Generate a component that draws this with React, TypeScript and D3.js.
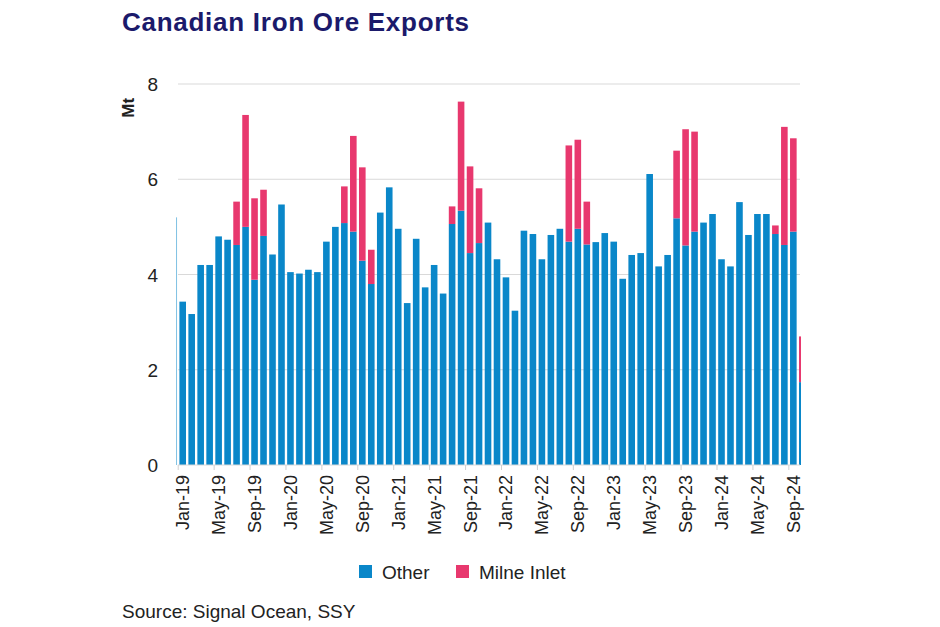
import React from "react";
import * as d3 from "d3";

const months = ["Dec","Jan","Feb","Mar","Apr","May","Jun","Jul","Aug","Sep","Oct","Nov"];
// Dec-18 .. Oct-24
const other = [5.2,
  3.43,3.17,4.2,4.2,4.8,4.73,4.62,5.0,3.89,4.81,4.42,5.47,
  4.05,4.02,4.1,4.05,4.69,5.0,5.08,4.9,4.29,3.8,5.3,5.83,
  4.96,3.4,4.75,3.73,4.2,3.6,5.06,5.34,4.45,4.66,5.09,4.32,
  3.94,3.24,4.92,4.85,4.32,4.83,4.96,4.69,4.96,4.63,4.68,4.87,
  4.69,3.91,4.41,4.45,6.11,4.17,4.41,5.18,4.61,4.9,5.09,5.27,
  4.32,4.17,5.52,4.83,5.27,5.27,4.85,4.62,4.9,1.74];
const totals = [5.2,
  3.43,3.17,4.2,4.2,4.8,4.73,5.53,7.35,5.6,5.78,4.42,5.47,
  4.05,4.02,4.1,4.05,4.69,5.0,5.85,6.91,6.25,4.52,5.3,5.83,
  4.96,3.4,4.75,3.73,4.2,3.6,5.43,7.63,6.27,5.81,5.09,4.32,
  3.94,3.24,4.92,4.85,4.32,4.83,4.96,6.71,6.83,5.53,4.68,4.87,
  4.69,3.91,4.41,4.45,6.11,4.17,4.41,6.6,7.05,7.0,5.09,5.27,
  4.32,4.17,5.52,4.83,5.27,5.27,5.03,7.1,6.86,2.7];
const milne = totals.map((t, i) => Math.max(0, +(t - other[i]).toFixed(2)));
const labels = other.map((_, i) => {
  const m = i % 12;
  const yr = i === 0 ? 18 : 19 + Math.floor((i - 1) / 12);
  return `${months[m]}-${yr}`;
});
const yTicks = [0, 2, 4, 6, 8];

const BLUE = "#0a87c9";
const PINK = "#e8386e";

export default function App() {
  const clipL = 176.5, clipR = 801;
  const step = 8.98;
  const x0 = 182.7 - step; // center of Dec-18
  const x = d3.scaleLinear().domain([0, other.length - 1]).range([x0, x0 + step * (other.length - 1)]);
  const y = d3.scaleLinear().domain([0, 8]).range([465, 84]);
  const bw = 6.6;
  const font = "'Liberation Sans', Arial, sans-serif";
  return (
    <svg width={940} height={627} style={{ position: "absolute", left: 0, top: 0, background: "#fff" }}>
      <defs>
        <clipPath id="pc"><rect x={clipL} y={60} width={clipR - clipL} height={420} /></clipPath>
      </defs>
      <text x={122} y={31} fontFamily={font} fontWeight="bold" fontSize={26} fill="#1b1a6b" textLength={347}>Canadian Iron Ore Exports</text>
      {yTicks.map(t => (
        <g key={t}>
          {t > 0 && <line x1={178} x2={800} y1={y(t)} y2={y(t)} stroke="#d9d9d9" strokeWidth={1.2} />}
          <text x={158} y={y(t) + 7} textAnchor="end" fontFamily={font} fontSize={19} fill="#222">{t}</text>
        </g>
      ))}
      <text transform={`translate(134,${y(7.5)}) rotate(-90)`} textAnchor="middle" fontFamily={font} fontSize={17} fontWeight="bold" fill="#222">Mt</text>
      <g clipPath="url(#pc)">
        {other.map((v, i) => (
          <g key={i}>
            <rect x={x(i) - bw / 2} width={bw} y={y(v)} height={y(0) - y(v)} fill={BLUE} />
            {milne[i] > 0 && <rect x={x(i) - bw / 2} width={bw} y={y(totals[i])} height={y(v) - y(totals[i])} fill={PINK} />}
          </g>
        ))}
      </g>
      <line x1={178} x2={800} y1={y(0)} y2={y(0)} stroke="#d9d9d9" />
      {labels.map((l, i) => (i % 4 === 1 ? (
        <g key={l}>
          <line x1={x(i) - step / 2} x2={x(i) - step / 2} y1={y(0)} y2={y(0) + 5} stroke="#d0d0d0" />
          <text transform={`translate(${x(i) + 6.5},${y(0) + 10}) rotate(-90)`} textAnchor="end" fontFamily={font} fontSize={18} fill="#222">{l}</text>
        </g>
      ) : null))}
      <rect x={359} y={565} width={13} height={13} fill={BLUE} />
      <text x={382} y={579} fontFamily={font} fontSize={19} fill="#222">Other</text>
      <rect x={456} y={565} width={13} height={13} fill={PINK} />
      <text x={479} y={579} fontFamily={font} fontSize={19} fill="#222">Milne Inlet</text>
      <text x={122} y={618} fontFamily={font} fontSize={19} fill="#222">Source: Signal Ocean, SSY</text>
    </svg>
  );
}
